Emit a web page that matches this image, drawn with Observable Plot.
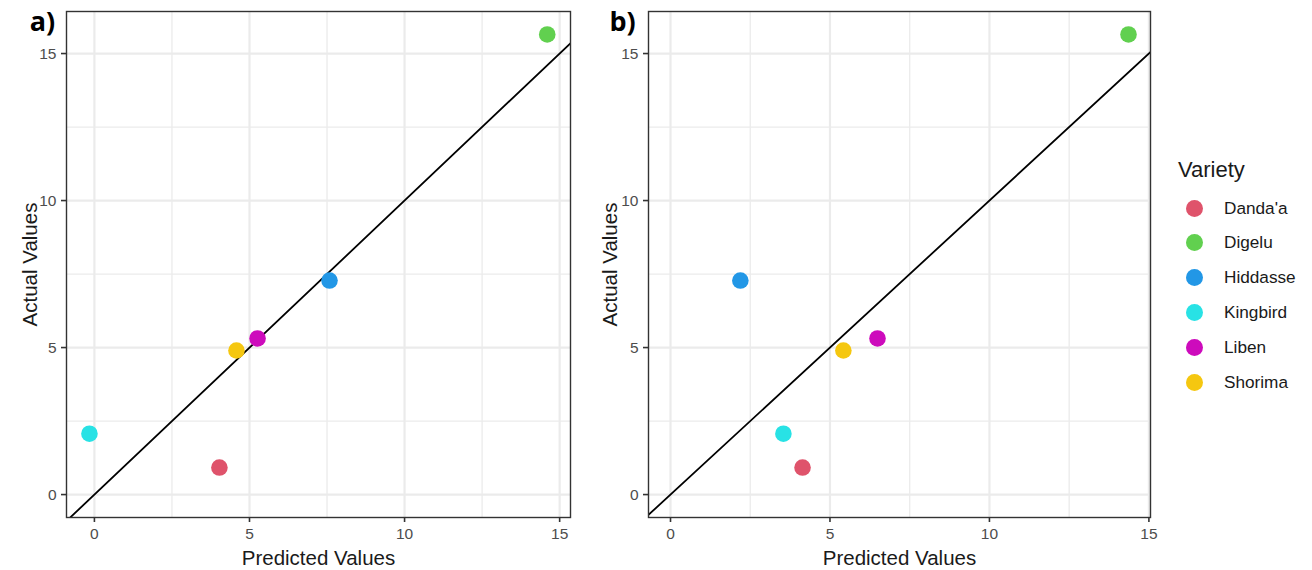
<!DOCTYPE html>
<html>
<head>
<meta charset="utf-8">
<script src="https://cdn.jsdelivr.net/npm/d3@7"></script>
<script src="https://cdn.jsdelivr.net/npm/@observablehq/plot@0.6"></script>
<style>
  html, body { margin: 0; padding: 0; background: #fff; }
  body { width: 1312px; height: 570px; position: relative; overflow: hidden; font-family: "Liberation Sans", Arial, sans-serif; }
  .panel { position: absolute; top: 0; }
  #legend { position: absolute; left: 1176px; top: 0; width: 136px; height: 570px; }
  #legend .title { position: absolute; left: 2px; top: 157px; font-size: 22px; line-height: 26px; color: #1a1a1a; }
  #legend .item { position: absolute; left: 0; height: 20px; display: flex; align-items: center; }
  #legend .sw { width: 17px; height: 17px; border-radius: 50%; margin-left: 10px; }
  #legend .lab { margin-left: 21px; font-size: 17.2px; color: #1a1a1a; white-space: nowrap; }
</style>
</head>
<body>
<div id="pa" class="panel" style="left:0px"></div>
<div id="pb" class="panel" style="left:580px"></div>
<div id="legend"></div>
<script>
const varieties = ["Danda'a", "Digelu", "Hiddasse", "Kingbird", "Liben", "Shorima"];
const colors = ["#DF536B", "#61D04F", "#2297E6", "#28E2E5", "#CD0BBC", "#F5C710"];
const actualValues = [0.92, 15.65, 7.28, 2.07, 5.31, 4.9];
const predictedA = [4.03, 14.6, 7.58, -0.16, 5.26, 4.58];
const predictedB = [4.14, 14.36, 2.19, 3.54, 6.49, 5.42];
const majorTicks = [0, 5, 10, 15];
const minorTicks = [2.5, 7.5, 12.5];
const identityLine = [-2, 17];
const panelLabels = ["a)", "b)"];
const xTitle = "Predicted Values";
const yTitle = "Actual Values";
const legendTitle = "Variety";

function makePanel(predicted, xDomain, marginLeft, label, labelCenterX) {
  const data = varieties.map((v, i) => ({variety: v, predicted: predicted[i], actual: actualValues[i]}));
  const lineData = identityLine.map(v => ({x: v, y: v}));
  return Plot.plot({
    width: 580,
    height: 570,
    marginLeft: marginLeft,
    marginRight: 10,
    marginTop: 11,
    marginBottom: 53,
    style: {fontFamily: "'Liberation Sans', Arial, sans-serif", overflow: "visible", background: "transparent"},
    x: {domain: xDomain},
    y: {domain: [-0.78, 16.43]},
    color: {domain: varieties, range: colors},
    marks: [
      Plot.gridX(minorTicks, {stroke: "#EBEBEB", strokeOpacity: 1, strokeWidth: 1.3}),
      Plot.gridY(minorTicks, {stroke: "#EBEBEB", strokeOpacity: 1, strokeWidth: 1.3}),
      Plot.gridX(majorTicks, {stroke: "#EBEBEB", strokeOpacity: 1, strokeWidth: 2.2}),
      Plot.gridY(majorTicks, {stroke: "#EBEBEB", strokeOpacity: 1, strokeWidth: 2.2}),
      Plot.line(lineData, {x: "x", y: "y", stroke: "#000", strokeWidth: 1.8, clip: true}),
      Plot.dot(data, {x: "predicted", y: "actual", fill: "variety", r: 8.3, stroke: "none"}),
      Plot.frame({stroke: "#333333", strokeWidth: 1.4}),
      Plot.axisX(majorTicks, {tickSize: 5, stroke: "#333333", strokeWidth: 1.6, tickFormat: () => "", label: null}),
      Plot.axisY(majorTicks, {tickSize: 5, stroke: "#333333", strokeWidth: 1.6, tickFormat: () => "", label: null}),
      Plot.text(majorTicks, {x: d => d, frameAnchor: "bottom", lineAnchor: "middle", textAnchor: "middle", dy: 17, fontSize: 15.5, fill: "#4D4D4D"}),
      Plot.text(majorTicks, {y: d => d, frameAnchor: "left", lineAnchor: "middle", textAnchor: "end", dx: -10, fontSize: 15.5, fill: "#4D4D4D"}),
      Plot.text([xTitle], {frameAnchor: "bottom", lineAnchor: "middle", textAnchor: "middle", dy: 41, fontSize: 20.5, fill: "#1a1a1a"}),
      Plot.text([yTitle], {frameAnchor: "left", lineAnchor: "middle", textAnchor: "middle", rotate: -90, dx: 30 - marginLeft, fontSize: 20.5, fill: "#1a1a1a"}),
      Plot.text([label], {frameAnchor: "top-left", lineAnchor: "middle", textAnchor: "middle", dx: labelCenterX - marginLeft, dy: 11, fontSize: 27, fontWeight: "bold", fill: "#000", fontFamily: "'Open Sans', 'Liberation Sans', sans-serif"})
    ]
  });
}

document.getElementById("pa").appendChild(makePanel(predictedA, [-0.9, 15.35], 66, panelLabels[0], 42));
document.getElementById("pb").appendChild(makePanel(predictedB, [-0.69, 15.05], 68, panelLabels[1], 622 - 580));

const legend = document.getElementById("legend");
const t = document.createElement("div");
t.className = "title";
t.textContent = legendTitle;
legend.appendChild(t);
varieties.forEach((v, i) => {
  const it = document.createElement("div");
  it.className = "item";
  it.style.top = (198 + i * 34.8) + "px";
  const sw = document.createElement("div");
  sw.className = "sw";
  sw.style.background = colors[i];
  const lab = document.createElement("div");
  lab.className = "lab";
  lab.textContent = v;
  it.appendChild(sw);
  it.appendChild(lab);
  legend.appendChild(it);
});
</script>
</body>
</html>
